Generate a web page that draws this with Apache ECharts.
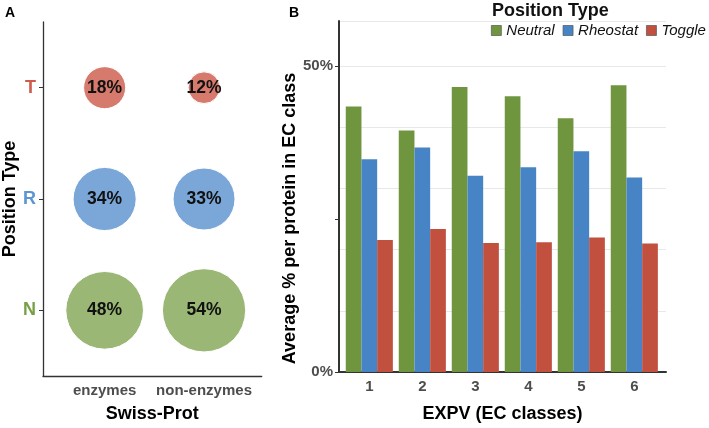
<!DOCTYPE html>
<html><head><meta charset="utf-8">
<script src="https://cdn.jsdelivr.net/npm/echarts@6/dist/echarts.min.js"></script>
<style>html,body{margin:0;padding:0;background:#fff}#c{width:709px;height:428px}</style>
</head><body><div id="c"></div>
<script>
// Panel A data
const swissCats = ['enzymes', 'non-enzymes'];
const posTypes = ['N', 'R', 'T'];
const neutralSP = [48, 54];
const rheostatSP = [34, 33];
const toggleSP = [18, 12];
// Panel B data
const ecClasses = ['1', '2', '3', '4', '5', '6'];
const neutralEC = [43.4, 39.5, 46.6, 45.1, 41.5, 46.9];
const rheostatEC = [34.8, 36.7, 32.1, 33.5, 36.1, 31.8];
const toggleEC = [21.6, 23.4, 21.1, 21.2, 22.0, 21.0];
const yTicksB = [0, 25, 50];
const yLabelsB = [0, 50];

const FONT = '"Liberation Sans", Arial, Helvetica, sans-serif';
const colA = { N: '#9AB775', R: '#7AA7D8', T: '#D67A6D' };
const colLab = { N: '#77A046', R: '#5B95D4', T: '#CF5A4C' };
const colB = { Neutral: '#6F963F', Rheostat: '#4784C6', Toggle: '#C1503F' };

function bubbleData(vals, row) {
  return vals.map((v, i) => [i + 1, row, v]);
}
function bubbleSeries(name, vals, row, color) {
  return {
    name: name, type: 'scatter', xAxisIndex: 0, yAxisIndex: 0,
    data: bubbleData(vals, row),
    symbolSize: v => 13.26 * Math.sqrt(v[2]) - 14.2,
    itemStyle: { color: color, opacity: 1, borderColor: '#fff', borderWidth: 1 },
    label: { show: true, position: 'inside', formatter: p => p.value[2] + '%',
      color: '#111', fontWeight: 'bold', fontSize: 17.5, fontFamily: FONT },
    emphasis: { disabled: true }, silent: true
  };
}
function barSeries(name, vals) {
  return {
    name: name, type: 'bar', xAxisIndex: 1, yAxisIndex: 2,
    data: vals.map((v, i) => [i + 1, v]),
    barWidth: 15.7, barGap: '0%',
    itemStyle: { color: colB[name] },
    emphasis: { disabled: true }, silent: true
  };
}

const chart = echarts.init(document.getElementById('c'), null, { renderer: 'canvas' });
chart.setOption({
  animation: false,
  textStyle: { fontFamily: FONT },
  title: [
    { text: 'A', left: 0, top: 1, textStyle: { fontSize: 14, fontWeight: 'bold', color: '#000', fontFamily: FONT } },
    { text: 'B', left: 284, top: 1, textStyle: { fontSize: 14, fontWeight: 'bold', color: '#000', fontFamily: FONT } },
    { text: 'Position Type', left: 487, top: -3, textStyle: { fontSize: 18, fontWeight: 'bold', color: '#111', fontFamily: FONT } }
  ],
  legend: {
    data: ['Neutral', 'Rheostat', 'Toggle'],
    left: 491, top: 23, width: 300, itemWidth: 10, itemHeight: 10, itemGap: 8,
    icon: 'rect', selectedMode: false, padding: 0,
    itemStyle: { borderColor: '#555', borderWidth: 0.7 },
    textStyle: { fontSize: 15, fontStyle: 'italic', color: '#111', fontFamily: FONT }
  },
  grid: [
    { left: 41.7, top: 22, width: 220, height: 356 },
    { left: 339, top: 21, width: 327, height: 357 }
  ],
  xAxis: [
    { type: 'value', gridIndex: 0, min: 0.38, max: 2.58,
      name: 'Swiss-Prot', nameLocation: 'middle', nameGap: 29,
      nameTextStyle: { fontSize: 18, fontWeight: 'bold', color: '#000', fontFamily: FONT },
      axisLine: { show: true, onZero: false, lineStyle: { color: '#333', width: 1.3 } },
      axisTick: { show: false },
      splitLine: { show: false },
      axisLabel: { customValues: [1, 2], formatter: v => swissCats[Math.round(v) - 1], margin: 7,
        fontSize: 15, fontWeight: 'bold', color: '#4d4d4d', fontFamily: FONT } },
    { type: 'value', gridIndex: 1, min: 0.428, max: 6.598,
      name: 'EXPV (EC classes)', nameLocation: 'middle', nameGap: 33,
      nameTextStyle: { fontSize: 18, fontWeight: 'bold', color: '#000', fontFamily: FONT },
      axisLine: { show: true, onZero: false, lineStyle: { color: '#333', width: 2 } },
      axisTick: { show: false },
      splitLine: { show: false },
      axisLabel: { customValues: [1, 2, 3, 4, 5, 6], formatter: v => ecClasses[Math.round(v) - 1], margin: 7,
        fontSize: 15, fontWeight: 'bold', color: '#4d4d4d', fontFamily: FONT } }
  ],
  yAxis: [
    { type: 'value', gridIndex: 0, min: 0.41, max: 3.59, position: 'left',
      name: 'Position Type', nameLocation: 'middle', nameGap: 24, nameRotate: 90,
      nameTextStyle: { fontSize: 18, fontWeight: 'bold', color: '#000', fontFamily: FONT },
      axisLine: { show: true, onZero: false, lineStyle: { color: '#333', width: 1.3 } },
      axisTick: { show: true, customValues: [1, 2, 3], length: 4, lineStyle: { color: '#333', width: 1 } },
      splitLine: { show: false },
      axisLabel: { customValues: [1, 2, 3], margin: 7,
        formatter: v => { const t = posTypes[Math.round(v) - 1]; return '{' + t + '|' + t + '}'; },
        rich: {
          N: { color: colLab.N, fontSize: 18, fontWeight: 'bold', fontFamily: FONT },
          R: { color: colLab.R, fontSize: 18, fontWeight: 'bold', fontFamily: FONT },
          T: { color: colLab.T, fontSize: 18, fontWeight: 'bold', fontFamily: FONT }
        } } },
    { type: 'value', gridIndex: 1, min: 0, max: 57.4, interval: 10, position: 'left',
      axisLine: { show: false }, axisTick: { show: false }, axisLabel: { show: false },
      splitLine: { show: true, lineStyle: { color: '#e8e8e8', width: 1 } } },
    { type: 'value', gridIndex: 1, min: 0, max: 57.4, position: 'left', offset: 0,
      name: 'Average % per protein in EC class', nameLocation: 'middle', nameGap: 37, nameRotate: 90,
      nameTextStyle: { fontSize: 18, fontWeight: 'bold', color: '#000', fontFamily: FONT, padding: [0, 44, 0, 0] },
      axisLine: { show: true, onZero: false, lineStyle: { color: '#333', width: 2 } },
      axisTick: { show: true, customValues: yTicksB, length: 4, lineStyle: { color: '#333', width: 1 } },
      splitLine: { show: false },
      axisLabel: { customValues: yLabelsB, formatter: v => v + '%', margin: 6,
        fontSize: 15, fontWeight: 'bold', color: '#4d4d4d', fontFamily: FONT } }
  ],
  series: [
    bubbleSeries('N-sp', neutralSP, 1, colA.N),
    bubbleSeries('R-sp', rheostatSP, 2, colA.R),
    bubbleSeries('T-sp', toggleSP, 3, colA.T),
    barSeries('Neutral', neutralEC),
    barSeries('Rheostat', rheostatEC),
    barSeries('Toggle', toggleEC)
  ]
});
</script>
</body></html>
